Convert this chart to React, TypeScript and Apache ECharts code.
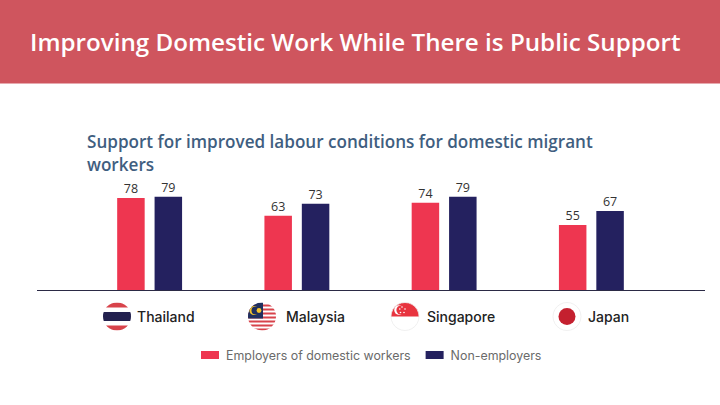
import React, { useEffect, useRef } from "react";
import * as echarts from "echarts";

const categories = ["Thailand", "Malaysia", "Singapore", "Japan"];
const employers = [78, 63, 74, 55];
const nonEmployers = [79, 73, 79, 67];
const flagCentres = [117, 262, 405, 567];
const nameLefts = [137, 286, 427, 588];

const wrap = (body: string) =>
  "data:image/svg+xml;utf8," +
  encodeURIComponent(
    `<svg xmlns="http://www.w3.org/2000/svg" width="84" height="84" viewBox="0 0 28 28"><defs><clipPath id="c"><circle cx="14" cy="14" r="14"/></clipPath></defs><g clip-path="url(#c)">${body}</g></svg>`
  );

const flags = [
  wrap(
    `<rect width="28" height="28" fill="#fff"/><rect width="28" height="5" fill="#d8434b"/><rect y="23" width="28" height="5" fill="#d8434b"/><rect y="9.5" width="28" height="9" fill="#23214f"/>`
  ),
  wrap(
    `<rect width="28" height="28" fill="#fff"/><rect y="2" width="28" height="2" fill="#d8434b"/><rect y="6" width="28" height="2" fill="#d8434b"/><rect y="10" width="28" height="2" fill="#d8434b"/><rect y="14" width="28" height="2" fill="#d8434b"/><rect y="18" width="28" height="2" fill="#d8434b"/><rect y="22" width="28" height="2" fill="#d8434b"/><rect y="26" width="28" height="2" fill="#d8434b"/><rect width="15" height="16" fill="#20305f"/><circle cx="6" cy="8" r="4.6" fill="#f5c42c"/><circle cx="7.5" cy="8" r="4" fill="#20305f"/><circle cx="11" cy="8" r="2.4" fill="#f5c42c"/>`
  ),
  wrap(
    `<rect width="28" height="28" fill="#fff"/><rect width="28" height="14" fill="#e8343f"/><circle cx="8" cy="7.5" r="4.8" fill="#fff"/><circle cx="10" cy="7.5" r="4.6" fill="#e8343f"/><circle cx="11" cy="4.5" r=".8" fill="#fff"/><circle cx="14" cy="6.5" r=".8" fill="#fff"/><circle cx="13" cy="10" r=".8" fill="#fff"/><circle cx="9.5" cy="10" r=".8" fill="#fff"/><circle cx="8.8" cy="6.5" r=".8" fill="#fff"/>`
  ),
  wrap(`<rect width="28" height="28" fill="#fff"/><circle cx="14" cy="14" r="8.5" fill="#c4202f"/>`),
];

const flagRing = (cx: number) => ({
  type: "circle",
  shape: { cx, cy: 316.5, r: 14 },
  style: { fill: "none", stroke: "#ececec", lineWidth: 0.8 },
  silent: true,
});

export default function App() {
  const ref = useRef<HTMLDivElement>(null);

  useEffect(() => {
    document.body.style.margin = "0";
    const chart = echarts.init(ref.current!, null, { renderer: "svg" });
    const labelStyle = {
      show: true,
      position: "top" as const,
      distance: 3,
      color: "#333333",
      fontSize: 12.5,
      fontFamily: "Open Sans",
    };
    chart.setOption({
      animation: false,
      backgroundColor: "#ffffff",
      title: [
        {
          text: "Improving Domestic Work While There is Public Support",
          left: 25,
          top: 24,
          textStyle: { color: "#ffffff", fontFamily: "Open Sans", fontWeight: 600, fontSize: 24.2 },
        },
        {
          text: "Support for improved labour conditions for domestic migrant\nworkers",
          left: 82,
          top: 125,
          textStyle: { color: "#3f5e80", fontFamily: "Open Sans", fontWeight: 600, fontSize: 17.1, lineHeight: 23 },
        },
      ],
      grid: { left: 76, width: 589, top: 172, height: 118 },
      xAxis: {
        type: "category",
        data: categories,
        axisLine: { show: false },
        axisTick: { show: false },
        axisLabel: { show: false },
      },
      yAxis: { type: "value", min: 0, max: 100, show: false },
      legend: {
        left: 196,
        top: 344,
        itemWidth: 18,
        itemHeight: 8,
        itemGap: 15,
        icon: "rect",
        textStyle: { color: "#6a6a6a", fontSize: 12.4, fontFamily: "Inter", padding: [0, 0, 0, 2] },
      },
      series: [
        {
          name: "Employers of domestic workers",
          type: "bar",
          data: employers,
          barWidth: 27.5,
          barGap: "36%",
          itemStyle: { color: "#ee3650" },
          label: labelStyle,
        },
        {
          name: "Non-employers",
          type: "bar",
          data: nonEmployers,
          barWidth: 27.5,
          itemStyle: { color: "#24215f" },
          label: labelStyle,
        },
      ],
      graphic: [
        {
          type: "rect",
          z: -1,
          shape: { x: 0, y: 0, width: 720, height: 83.5 },
          style: { fill: "#cf555e" },
          silent: true,
        },
        {
          type: "line",
          shape: { x1: 37, y1: 290.5, x2: 705, y2: 290.5 },
          style: { stroke: "#2b2a45", lineWidth: 1.2 },
          silent: true,
        },
        ...categories.map((_, i) => ({
          type: "image",
          style: { image: flags[i], x: flagCentres[i] - 14, y: 302.5, width: 28, height: 28 },
          silent: true,
        })),
        ...flagCentres.slice(2).map(flagRing),
        ...categories.map((name, i) => ({
          type: "text",
          x: nameLefts[i],
          y: 316,
          style: {
            text: name,
            fill: "#222222",
            font: "500 14px Inter",
            textVerticalAlign: "middle",
          },
          silent: true,
        })),
      ],
    });
    return () => chart.dispose();
  }, []);

  return <div ref={ref} style={{ width: 720, height: 405 }} />;
}
